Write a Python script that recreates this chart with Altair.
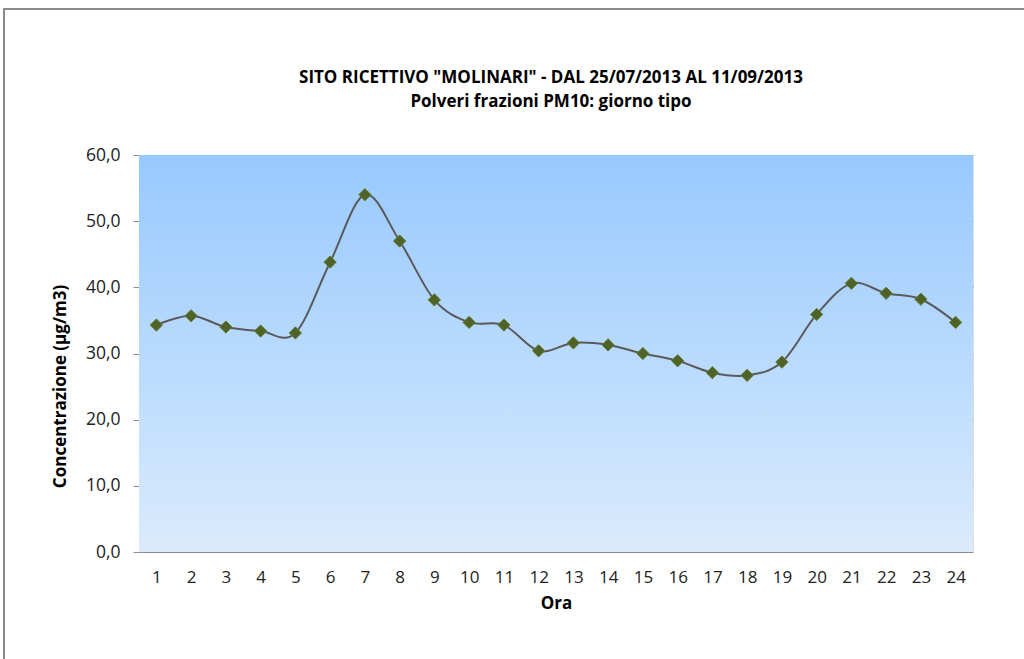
import altair as alt
import pandas as pd

ore = list(range(1, 25))
pm10 = [34.3, 35.7, 34.0, 33.4, 33.1, 43.8, 54.0, 47.0, 38.1, 34.7, 34.3, 30.4,
        31.6, 31.3, 30.0, 28.9, 27.1, 26.7, 28.7, 35.9, 40.6, 39.1, 38.2, 34.7]
title_line1 = 'SITO RICETTIVO "MOLINARI" - DAL 25/07/2013 AL 11/09/2013'
title_line2 = 'Polveri frazioni PM10: giorno tipo'
y_title = "Concentrazione (µg/m3)"
x_title = "Ora"

df = pd.DataFrame({"Ora": ore, "PM10": pm10})

W, H = 834, 397
FONT = "Open Sans"
one = pd.DataFrame({"a": [0]})

frame = alt.Chart(one).mark_rect(
    fill=None, stroke="#8a8a8a", strokeWidth=2
).encode(x=alt.value(-135), x2=alt.value(1000), y=alt.value(-146), y2=alt.value(600))

t1 = alt.Chart(one).mark_text(
    text=title_line1, font=FONT, fontSize=17, fontWeight="bold", color="#000",
    align="center", baseline="alphabetic"
).encode(x=alt.value(412), y=alt.value(-72))
t2 = alt.Chart(one).mark_text(
    text=title_line2, font=FONT, fontSize=17, fontWeight="bold", color="#000",
    align="center", baseline="alphabetic"
).encode(x=alt.value(412), y=alt.value(-48))

bg = alt.Chart(one).mark_rect(
    color=alt.LinearGradient(
        gradient="linear", x1=0, y1=0, x2=0, y2=1,
        stops=[alt.GradientStop(offset=0, color="#97C9FE"),
               alt.GradientStop(offset=1, color="#DAEBFC")],
    )
).encode(x=alt.value(0), x2=alt.value(W), y=alt.value(0), y2=alt.value(H))

xenc = alt.X("Ora:O", title=x_title, sort=ore,
             scale=alt.Scale(paddingInner=0, paddingOuter=0, align=0.5),
             axis=alt.Axis(labelAngle=0, ticks=False, domain=False, grid=False,
                           labelPadding=17, labelFontSize=17, labelColor="#222",
                           titleFontSize=17, titleFontWeight="bold", titlePadding=10,
                           titleColor="#000", labelFont=FONT, titleFont=FONT))
yenc = alt.Y("PM10:Q", title=y_title,
             scale=alt.Scale(domain=[0, 60], nice=False),
             axis=alt.Axis(values=[0, 10, 20, 30, 40, 50, 60],
                           labelExpr="replace(format(datum.value, '.1f'), '.', ',')",
                           grid=True, gridColor="#8a8a8a", gridWidth=1,
                           ticks=True, tickSize=6, tickColor="#8a8a8a",
                           domain=False, labelPadding=13, labelFontSize=17.5,
                           labelColor="#222", titleFontSize=17,
                           titleFontWeight="bold", titleColor="#000",
                           titleAngle=-90, titleX=-79, titleY=231,
                           titleAlign="center", titleBaseline="middle",
                           labelFont=FONT, titleFont=FONT))

line = alt.Chart(df).mark_line(
    color="#5a5a5a", strokeWidth=2, interpolate="cardinal"
).encode(x=xenc, y=yenc)

pts = alt.Chart(df).mark_point(
    shape="diamond", filled=True, fill="#4F6228", stroke="#5f7a2a",
    strokeWidth=1, size=150, opacity=1
).encode(x=xenc, y=yenc)

chart = alt.layer(frame, t1, t2, bg, line, pts).properties(
    width=W, height=H,
    padding={"left": 139, "top": 155, "right": 51, "bottom": 107},
    autosize=alt.AutoSizeParams(type="none"),
).configure_view(stroke="#333333", strokeWidth=1.5).configure(background="white")

chart.save("out.html", embed_options={"renderer": "svg", "actions": False})
